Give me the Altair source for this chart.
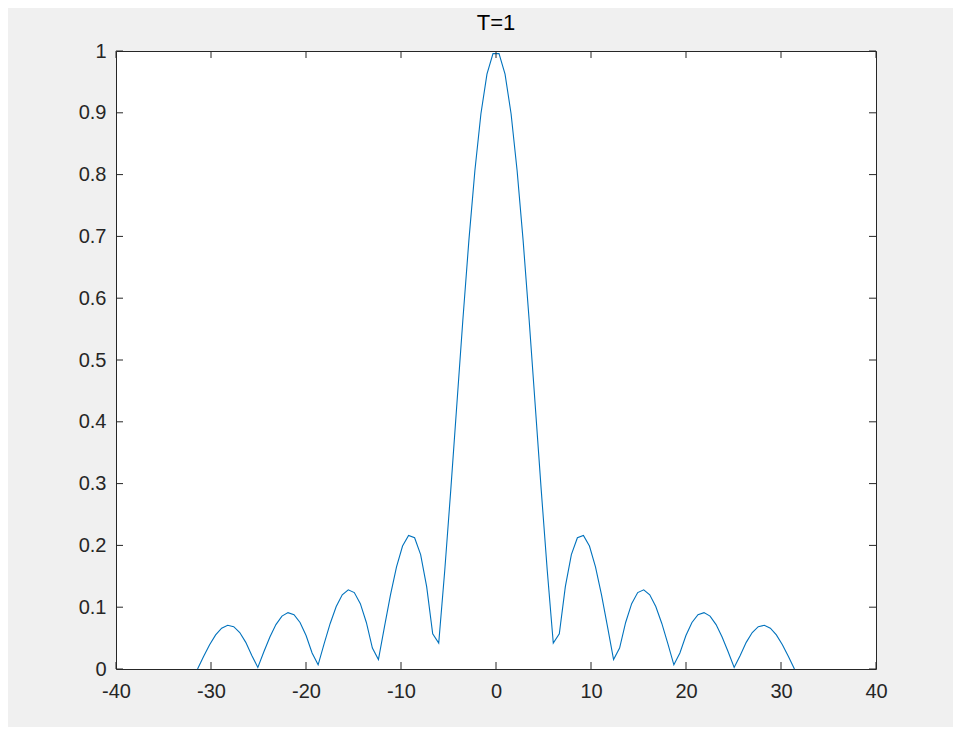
import altair as alt
import pandas as pd

# sample positions (w) and magnitudes
w_vals = [
    -31.416, -30.782, -30.147, -29.512, -28.878, -28.243, -27.608, -26.974, -26.339, -25.704,
    -25.070, -24.435, -23.800, -23.166, -22.531, -21.896, -21.262, -20.627, -19.992, -19.358,
    -18.723, -18.088, -17.454, -16.819, -16.184, -15.550, -14.915, -14.280, -13.646, -13.011,
    -12.376, -11.742, -11.107, -10.472, -9.837, -9.203, -8.568, -7.933, -7.299, -6.664,
    -6.029, -5.395, -4.760, -4.126, -3.491, -2.856, -2.221, -1.587, -0.952, -0.317,
    0.317, 0.952, 1.587, 2.221, 2.856, 3.491, 4.126, 4.760, 5.395, 6.029,
    6.664, 7.299, 7.933, 8.568, 9.203, 9.837, 10.472, 11.107, 11.742, 12.376,
    13.011, 13.646, 14.280, 14.915, 15.550, 16.184, 16.819, 17.454, 18.088, 18.723,
    19.358, 19.992, 20.627, 21.262, 21.896, 22.531, 23.166, 23.800, 24.435, 25.070,
    25.704, 26.339, 26.974, 27.608, 28.243, 28.878, 29.512, 30.147, 30.782, 31.416,
]
mag_vals = [
    0.0000, 0.0203, 0.0393, 0.0552, 0.0661, 0.0708, 0.0685, 0.0590, 0.0431, 0.0219,
    0.0025, 0.0280, 0.0519, 0.0719, 0.0856, 0.0912, 0.0879, 0.0753, 0.0541, 0.0260,
    0.0068, 0.0411, 0.0737, 0.1010, 0.1201, 0.1282, 0.1237, 0.1058, 0.0753, 0.0339,
    0.0154, 0.0683, 0.1201, 0.1654, 0.1990, 0.2160, 0.2123, 0.1852, 0.1332, 0.0568,
    0.0420, 0.1593, 0.2899, 0.4273, 0.5643, 0.6932, 0.8067, 0.8984, 0.9627, 0.9958,
    0.9958, 0.9627, 0.8984, 0.8067, 0.6932, 0.5643, 0.4273, 0.2899, 0.1593, 0.0420,
    0.0568, 0.1332, 0.1852, 0.2123, 0.2160, 0.1990, 0.1654, 0.1201, 0.0683, 0.0154,
    0.0339, 0.0753, 0.1058, 0.1237, 0.1282, 0.1201, 0.1010, 0.0737, 0.0411, 0.0068,
    0.0260, 0.0541, 0.0753, 0.0879, 0.0912, 0.0856, 0.0719, 0.0519, 0.0280, 0.0025,
    0.0219, 0.0431, 0.0590, 0.0685, 0.0708, 0.0661, 0.0552, 0.0393, 0.0203, 0.0000,
]
x_ticks = [-40, -30, -20, -10, 0, 10, 20, 30, 40]
y_ticks = [0, 0.1, 0.2, 0.3, 0.4, 0.5, 0.6, 0.7, 0.8, 0.9, 1]
title_text = "T=1"

W, H = 760, 618
FONT = "Liberation Sans"
AX = "#262626"
TICK = 7
LFS = 20

df = pd.DataFrame({"w": w_vals, "mag": mag_vals})
dfx = pd.DataFrame({"w": x_ticks})
dfy = pd.DataFrame({"mag": y_ticks})

xscale = alt.Scale(domain=[-40, 40], nice=False, zero=False)
yscale = alt.Scale(domain=[0, 1], nice=False, zero=False)

xaxis = alt.Axis(values=x_ticks, title=None, tickSize=0, domain=False, grid=False,
                 labelFlush=False, labelOverlap=False,
                 labelPadding=12, labelFont=FONT, labelFontSize=LFS, labelColor=AX,
                 labelExpr="datum.value < 0 ? '-' + abs(datum.value) : '' + datum.value")
yaxis = alt.Axis(values=y_ticks, title=None, tickSize=0, domain=False, grid=False,
                 labelFlush=False, labelOverlap=False,
                 labelPadding=10, labelFont=FONT, labelFontSize=LFS, labelColor=AX,
                 format=".1~f")

X = alt.X("w:Q", scale=xscale, axis=xaxis)
Y = alt.Y("mag:Q", scale=yscale, axis=yaxis)

line = alt.Chart(df).mark_line(color="#0072BD", strokeWidth=1.1).encode(x=X, y=Y)

xt_bottom = alt.Chart(dfx).mark_rule(color=AX, strokeWidth=1).encode(
    x=X, y=alt.value(H), y2=alt.value(H - TICK))
xt_top = alt.Chart(dfx).mark_rule(color=AX, strokeWidth=1).encode(
    x=X, y=alt.value(0), y2=alt.value(TICK))
yt_left = alt.Chart(dfy).mark_rule(color=AX, strokeWidth=1).encode(
    y=Y, x=alt.value(0), x2=alt.value(TICK))
yt_right = alt.Chart(dfy).mark_rule(color=AX, strokeWidth=1).encode(
    y=Y, x=alt.value(W), x2=alt.value(W - TICK))

chart = alt.layer(line, xt_bottom, xt_top, yt_left, yt_right).properties(
    width=W, height=H,
    title=alt.TitleParams(title_text, font=FONT, fontSize=22, fontWeight="normal",
                          color="black", anchor="middle", offset=6),
    autosize=alt.AutoSizeParams(type="none"),
    padding={"left": 108, "top": 43, "right": 77, "bottom": 58},
    background="#F0F0F0",
).configure_view(stroke=AX, strokeWidth=1, fill="white")

chart.save("out.html", embed_options={"renderer": "svg", "actions": False})
